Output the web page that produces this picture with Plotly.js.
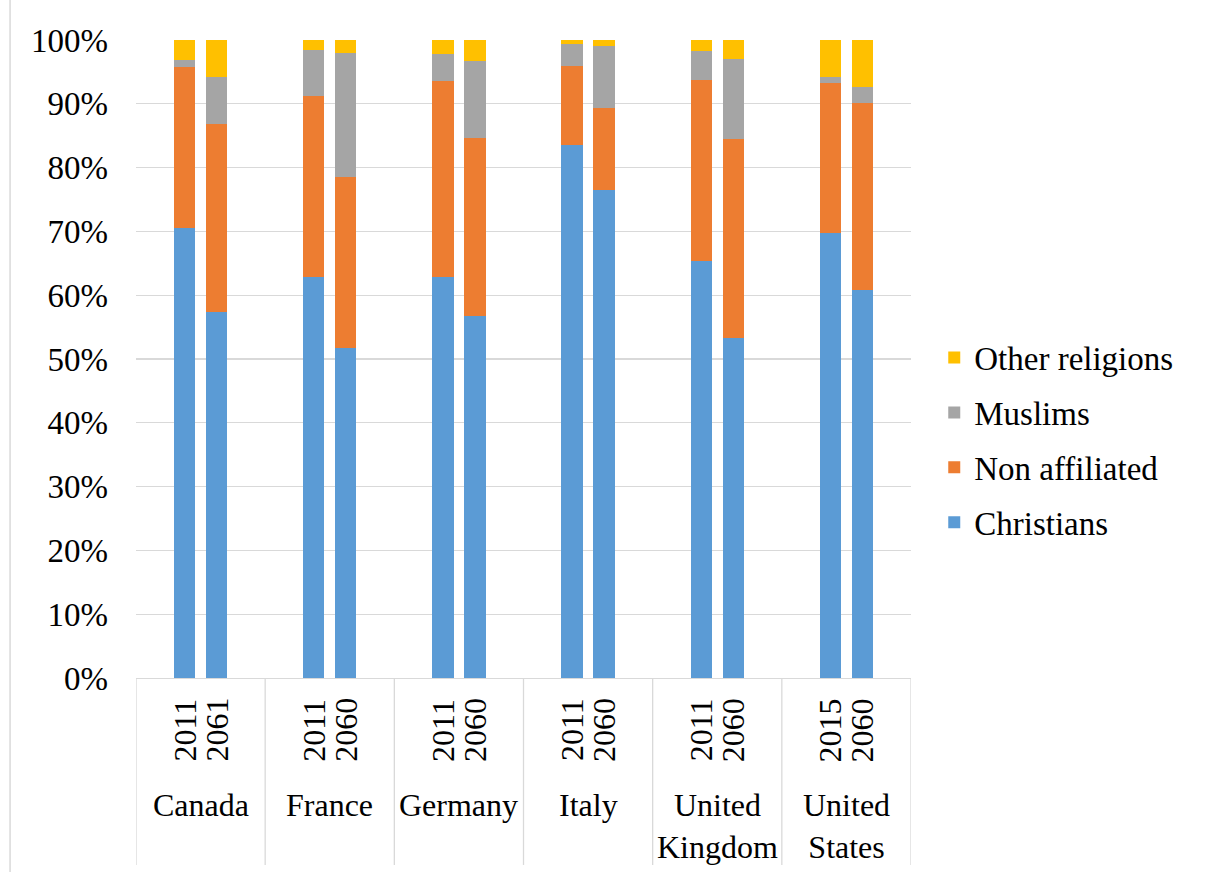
<!DOCTYPE html>
<html>
<head>
<meta charset="utf-8">
<script src="https://cdn.plot.ly/plotly-3.0.1.min.js"></script>
<style>
  html, body { margin: 0; padding: 0; background: #ffffff; }
  #chart { width: 1206px; height: 872px; }
</style>
</head>
<body>
<div id="chart"></div>
<script>
// Religious composition by country, current year vs. projection (% of population)
const countries = ["Canada", "France", "Germany", "Italy", "United<br>Kingdom", "United<br>States"];
const years = ["2011", "2061", "2011", "2060", "2011", "2060", "2011", "2060", "2011", "2060", "2015", "2060"];

const christians      = [70.6, 57.3, 62.9, 51.7, 62.9, 56.7, 83.6, 76.5, 65.3, 53.3, 69.7, 60.8];
const nonAffiliated   = [25.1, 29.5, 28.3, 26.8, 30.7, 28.0, 12.3, 12.8, 28.4, 31.2, 23.5, 29.4];
const muslims         = [ 1.2,  7.4,  7.3, 19.4,  4.2, 12.0,  3.5,  9.7,  4.6, 12.5,  1.0,  2.5];
const otherReligions  = [ 3.1,  5.8,  1.5,  2.1,  2.2,  3.3,  0.6,  1.0,  1.7,  3.0,  5.8,  7.3];

const seriesNames  = ["Christians", "Non affiliated", "Muslims", "Other religions"];
const seriesValues = [christians, nonAffiliated, muslims, otherReligions];
const seriesColors = ["#5B9BD5", "#ED7D31", "#A5A5A5", "#FFC000"];

// two bars per country, sitting either side of the country's slot centre
const barOffset = 0.124;
const barWidth = 0.165;
const xPos = years.map((_, k) => Math.floor(k / 2) + (k % 2 ? barOffset : -barOffset));

const font = "Liberation Serif";
const gridColor = "#d9d9d9";

// legend lists the top segment first
const traces = seriesNames.map((name, s) => ({
  type: "bar",
  name: name,
  x: xPos,
  y: seriesValues[s],
  width: barWidth,
  marker: { color: seriesColors[s], line: { width: 0 } },
  legendgroup: "g" + s,
  legendrank: 1000 - s,
  hoverinfo: "name+y"
}));

// category labels drawn under the axis: rotated years and country names
const annotations = [];
years.forEach((yr, k) => {
  annotations.push({
    x: xPos[k], xref: "x", y: -0.0815, yref: "paper",
    text: yr, textangle: -90, showarrow: false,
    xanchor: "center", yanchor: "middle",
    font: { family: font, size: 32, color: "#000000" }
  });
});
countries.forEach((c, i) => {
  annotations.push({
    x: i, xref: "x", y: -0.168, yref: "paper",
    text: c, showarrow: false,
    xanchor: "center", yanchor: "top",
    font: { family: font, size: 32, color: "#000000" }
  });
});

// divider lines between the country slots, below the axis
const shapes = [];
for (let i = 0; i <= countries.length; i++) {
  shapes.push({
    type: "line", xref: "x", yref: "paper",
    x0: i - 0.5, x1: i - 0.5, y0: 0, y1: -0.293,
    line: { color: gridColor, width: 1.3 }
  });
}
// chart frame edge on the left
shapes.push({
  type: "line", xref: "paper", yref: "paper",
  x0: -0.1625, x1: -0.1625, y0: 1.07, y1: -0.31,
  line: { color: gridColor, width: 1.5 }
});

const layout = {
  width: 1206,
  height: 872,
  margin: { l: 136, r: 294.5, t: 40, b: 194 },
  paper_bgcolor: "#ffffff",
  plot_bgcolor: "#ffffff",
  barmode: "stack",
  showlegend: true,
  font: { family: font, size: 32, color: "#000000" },
  xaxis: {
    range: [-0.5, countries.length - 0.5],
    showticklabels: false,
    showgrid: false,
    zeroline: false,
    showline: true,
    linecolor: gridColor,
    linewidth: 1.3,
    ticks: "",
    fixedrange: true
  },
  yaxis: {
    range: [0, 100],
    dtick: 10,
    ticksuffix: "%",
    showgrid: true,
    gridcolor: gridColor,
    gridwidth: 1.3,
    zeroline: false,
    showline: false,
    ticks: "",
    ticklabelstandoff: 27,
    tickfont: { family: font, size: 33, color: "#000000" },
    fixedrange: true
  },
  legend: {
    x: 1.03, xanchor: "left",
    y: 0.373, yanchor: "middle",
    traceorder: "grouped",
    tracegroupgap: 9,
    bgcolor: "rgba(0,0,0,0)",
    font: { family: font, size: 33, color: "#000000" }
  },
  annotations: annotations,
  shapes: shapes
};

Plotly.newPlot("chart", traces, layout, { displayModeBar: false, staticPlot: true });
</script>
</body>
</html>
